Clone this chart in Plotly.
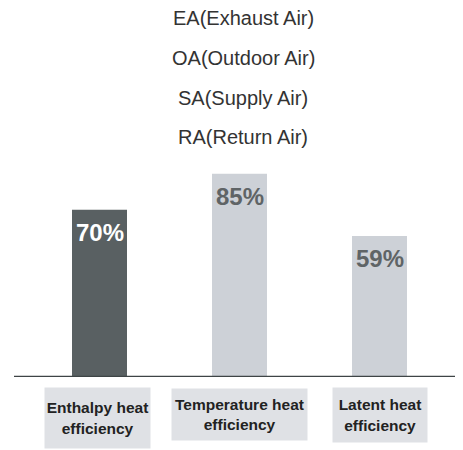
import plotly.graph_objects as go

categories = ["Enthalpy heat<br>efficiency", "Temperature heat<br>efficiency", "Latent heat<br>efficiency"]
values = [70, 85, 59]
value_labels = ["70%", "85%", "59%"]
bar_colors = ["#596062", "#cdd1d7", "#cdd1d7"]
label_colors = ["#ffffff", "#5f6466", "#5f6466"]
header_lines = ["EA(Exhaust Air)", "OA(Outdoor Air)", "SA(Supply Air)", "RA(Return Air)"]

# page body has an 8px default margin; work in reference pixels and offset
OFF = 8
W, H = 463 - OFF, 450 - OFF
BASE = 377 - OFF           # baseline position inside figure
T, B = 0, H - BASE
plot_h = BASE - T
scale = 2.39  # px per unit
STEP = 140
X0 = 99.5 - OFF

fig = go.Figure()
fig.add_trace(go.Bar(
    x=list(range(len(values))), y=values,
    marker=dict(color=bar_colors, line=dict(width=0)),
    width=55 / STEP, hoverinfo="skip",
))

annotations = []
for i, (v, t, c) in enumerate(zip(values, value_labels, label_colors)):
    annotations.append(dict(
        x=i, y=v, xref="x", yref="y", text=f"<b>{t}</b>", showarrow=False,
        yanchor="middle", yshift=-23,
        font=dict(family="Liberation Sans, Arial", size=24, color=c),
    ))

header_py = [18, 58, 98, 137]
for txt, py in zip(header_lines, header_py):
    annotations.append(dict(
        x=(243 - OFF) / W, y=1 - (py - OFF) / plot_h, xref="paper", yref="paper", text=txt,
        showarrow=False, xanchor="center", yanchor="middle",
        font=dict(family="Liberation Sans, Arial", size=20, color="#333333"),
    ))

box_cx = [97.5, 239.5, 380]
box_cy = [418, 414.5, 415]
box_w = [105, 135, 94]
box_h = [60, 51, 54]
for i, (cat, cx, cy, bw, bh) in enumerate(zip(categories, box_cx, box_cy, box_w, box_h)):
    annotations.append(dict(
        x=i, y=1 - (cy - OFF) / plot_h, xref="x", yref="paper", text=f"<b>{cat}</b>",
        showarrow=False, xanchor="center", yanchor="middle", xshift=cx - (99.5 + STEP * i),
        width=bw, height=bh, bgcolor="#dfe1e5", borderpad=0,
        align="center", valign="middle",
        font=dict(family="Liberation Sans, Arial", size=15.5, color="#222222"),
    ))

fig.update_layout(
    width=W, height=H,
    margin=dict(l=0, r=0, t=T, b=B, pad=0),
    paper_bgcolor="white", plot_bgcolor="white",
    showlegend=False,
    xaxis=dict(range=[-X0 / STEP, (W - X0) / STEP], visible=False, fixedrange=True),
    yaxis=dict(range=[0, plot_h / scale], visible=False, fixedrange=True),
    annotations=annotations,
    shapes=[dict(type="line", xref="paper", yref="y", x0=(14 - OFF) / W, x1=1, y0=0, y1=0,
                 line=dict(color="#3e4446", width=2.5))],
)

fig.write_html("out.html")
